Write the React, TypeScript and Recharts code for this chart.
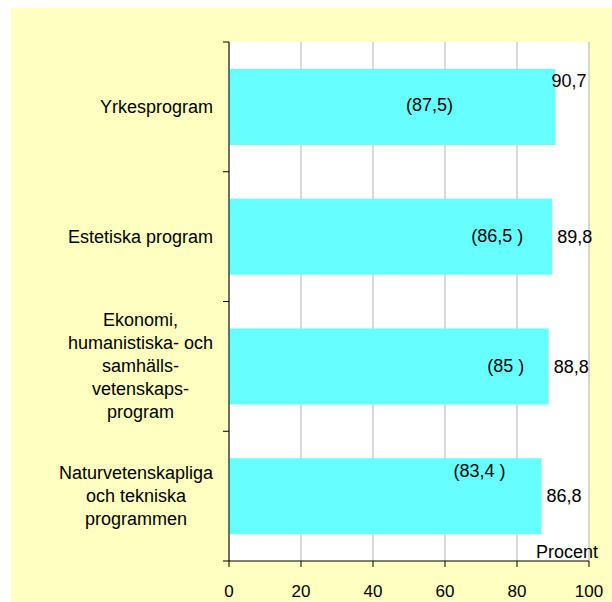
import React from "react";
import { BarChart, Bar, XAxis, YAxis, CartesianGrid, LabelList, Label } from "recharts";

const categories = [
  "Yrkesprogram",
  "Estetiska program",
  "Ekonomi,\nhumanistiska- och\nsamhälls-\nvetenskaps-\nprogram",
  "Naturvetenskapliga\noch tekniska\nprogrammen",
];
const values = [90.7, 89.8, 88.8, 86.8];
const prevLabels = ["(87,5)", "(86,5 )", "(85 )", "(83,4 )"];
const xTicks = [0, 20, 40, 60, 80, 100];

// placement of the bracketed labels, relative to the end / middle of each bar
const prevOffsets = [
  { dx: -126, dy: -2 },
  { dx: -55, dy: -1 },
  { dx: -43, dy: -1 },
  { dx: -62, dy: -25 },
];
// first value label sits on top of the bar end, the others right of it
const valuePlacement = ["top", "right", "right", "right"];

const data = categories.map((name, i) => ({
  name,
  value: values[i],
  prev: prevLabels[i],
}));

const FONT = "'Liberation Sans', Arial, sans-serif";
const fmt = (v: number) => String(v).replace(".", ",");

let ctx: CanvasRenderingContext2D | null = null;
function textWidth(s: string, size: number) {
  if (!ctx) ctx = document.createElement("canvas").getContext("2d");
  if (!ctx) return s.length * size * 0.5;
  ctx.font = `${size}px ${FONT}`;
  return ctx.measureText(s).width;
}

function CategoryTick(props: any) {
  const { x, y, payload, height, index } = props;
  const lines = String(payload.value).split("\n");
  const half = height / (categories.length * 2);
  const maxW = Math.max(...lines.map((l) => textWidth(l, 18)));
  const cx = x - 16 - maxW / 2;
  const lh = 23;
  const y0 = y - ((lines.length - 1) * lh) / 2;
  return (
    <g>
      <line x1={x - 6} x2={x} y1={y - half} y2={y - half} stroke="#000" />
      {index === categories.length - 1 && (
        <line x1={x - 6} x2={x} y1={y + half} y2={y + half} stroke="#000" />
      )}
      {lines.map((l, i) => (
        <text
          key={i}
          x={cx}
          y={y0 + i * lh}
          textAnchor="middle"
          dominantBaseline="central"
          fontSize={18}
          fontFamily={FONT}
          fill="#000"
        >
          {l}
        </text>
      ))}
    </g>
  );
}

function ValueTick(props: any) {
  const { x, y, payload } = props;
  return (
    <text
      x={x}
      y={y + 24}
      textAnchor="middle"
      dominantBaseline="central"
      fontSize={17}
      fontFamily={FONT}
      fill="#000"
    >
      {payload.value}
    </text>
  );
}

function ValueLabel(props: any) {
  const { x, y, width, height, value, index } = props;
  const top = valuePlacement[index] === "top";
  return (
    <text
      x={top ? x + width - 4 : x + width + 5}
      y={top ? y + 12 : y + height / 2}
      dominantBaseline="central"
      fontSize={18}
      fontFamily={FONT}
      fill="#000"
    >
      {fmt(value)}
    </text>
  );
}

function PrevLabel(props: any) {
  const { x, y, width, height, value, index } = props;
  const o = prevOffsets[index];
  return (
    <text
      x={x + width + o.dx}
      y={y + height / 2 + o.dy}
      textAnchor="middle"
      dominantBaseline="central"
      fontSize={18}
      fontFamily={FONT}
      fill="#000"
    >
      {value}
    </text>
  );
}

export default function App() {
  return (
    <div style={{ position: "absolute", left: 0, top: 0, width: 612, height: 602 }}>
      <div
        style={{
          position: "absolute",
          left: 11,
          top: 8,
          width: 601,
          height: 594,
          background: "#FFFFC0",
        }}
      />
      <div style={{ position: "absolute", left: 0, top: 0 }}>
        <BarChart
          width={612}
          height={602}
          data={data}
          layout="vertical"
          margin={{ top: 42, right: 23, bottom: 0, left: 0 }}
        >
          <CartesianGrid
            horizontal={false}
            vertical={true}
            stroke="#b3b3b3"
            fill="#ffffff"
            fillOpacity={1}
          />
          <XAxis
            type="number"
            domain={[0, 100]}
            ticks={xTicks}
            height={41}
            tickSize={6}
            tickMargin={0}
            tick={<ValueTick />}
            axisLine={{ stroke: "#000" }}
            tickLine={{ stroke: "#000" }}
          >
            <Label
              content={(p: any) => {
                const vb = p.viewBox || {};
                return (
                  <text
                    x={vb.x + vb.width + 9}
                    y={vb.y - 9}
                    textAnchor="end"
                    dominantBaseline="central"
                    fontSize={18}
                    fontFamily={FONT}
                    fill="#000"
                  >
                    Procent
                  </text>
                );
              }}
            />
          </XAxis>
          <YAxis
            type="category"
            dataKey="name"
            width={229}
            tickSize={0}
            tickMargin={0}
            tick={<CategoryTick />}
            tickLine={false}
            axisLine={{ stroke: "#000" }}
            interval={0}
          />
          <Bar dataKey="value" fill="#66FFFF" barSize={76} isAnimationActive={false}>
            <LabelList dataKey="value" content={<ValueLabel />} />
            <LabelList dataKey="prev" content={<PrevLabel />} />
          </Bar>
        </BarChart>
      </div>
    </div>
  );
}
